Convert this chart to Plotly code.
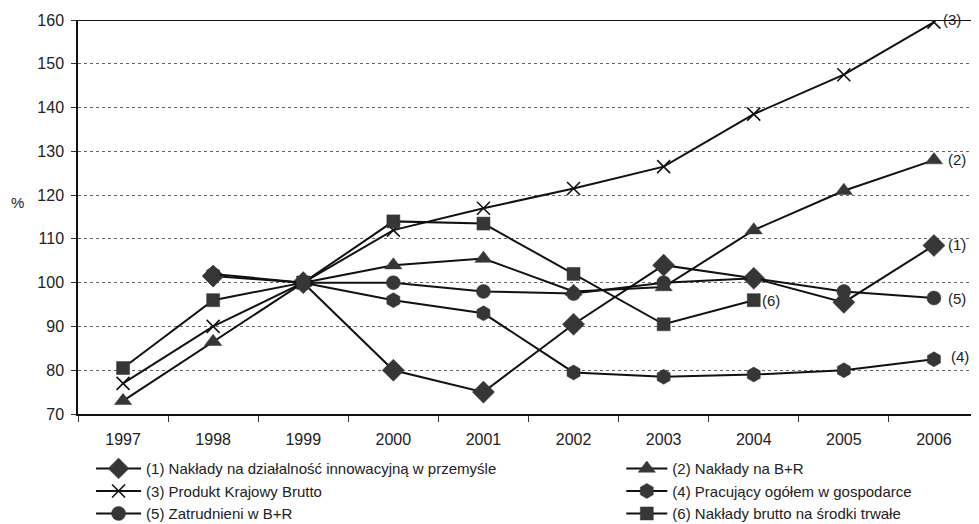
import plotly.graph_objects as go

years = ["1997", "1998", "1999", "2000", "2001", "2002", "2003", "2004", "2005", "2006"]

names = [
    "(1) Nakłady na działalność innowacyjną w przemyśle",
    "(2) Nakłady na B+R",
    "(3) Produkt Krajowy Brutto",
    "(4) Pracujący ogółem w gospodarce",
    "(5) Zatrudnieni w B+R",
    "(6) Nakłady brutto na środki trwałe",
]

s1_innowacje = [None, 101.5, 100, 80, 75, 90.5, 104, 101, 95.5, 108.5]
s2_br = [73, 86.5, 100, 104, 105.5, 98, 99, 112, 121, 128]
s3_pkb = [77, 90, 100, 112, 117, 121.5, 126.5, 138.5, 147.5, 159.5]
s4_pracujacy = [None, 102, 100, 96, 93, 79.5, 78.5, 79, 80, 82.5]
s5_zatrudnieni_br = [None, None, 100, 100, 98, 97.5, 100, 101, 98, 96.5]
s6_srodki_trwale = [80.5, 96, 100, 114, 113.5, 102, 90.5, 96, None, None]

end_labels = ["(1)", "(2)", "(3)", "(4)", "(5)", "(6)"]

series = [s1_innowacje, s2_br, s3_pkb, s4_pracujacy, s5_zatrudnieni_br, s6_srodki_trwale]

# styles
symbols = ["diamond", "triangle-up", "x-thin", "hexagon", "circle", "square"]
sizes = [17, 15, 13, 15, 14, 13]
legend_ids = ["legend", "legend2", "legend", "legend2", "legend", "legend2"]
label_shift = [(12, 1), (12, 1), (7, 3), (15, 3), (12, -1), (6, 0)]

FILL = "#363636"
LINE = "#111111"
TXT = "#222222"
FONT = "Liberation Sans, Arial, sans-serif"

fig = go.Figure()
for name, vals, sym, sz, lg in zip(names, series, symbols, sizes, legend_ids):
    if sym == "x-thin":
        marker = dict(symbol=sym, size=sz, color=LINE, line=dict(color=LINE, width=1.6))
    else:
        marker = dict(symbol=sym, size=sz, color=FILL, line=dict(color=FILL, width=0.5))
    fig.add_trace(go.Scatter(
        x=years, y=vals, name=name, mode="lines+markers", legend=lg,
        line=dict(color=LINE, width=2), marker=marker, connectgaps=False,
    ))

# end-of-series labels
for lab, vals, (dx, dy) in zip(end_labels, series, label_shift):
    idx = max(i for i, v in enumerate(vals) if v is not None)
    fig.add_annotation(x=idx, y=vals[idx], text=lab, showarrow=False,
                       xanchor="left", xshift=dx, yshift=dy,
                       font=dict(family=FONT, size=15, color=TXT))

fig.add_annotation(xref="paper", yref="y", x=-0.077, y=118.3, text="%",
                   showarrow=False, xanchor="left",
                   font=dict(family=FONT, size=15, color=TXT))

fig.add_shape(type="line", xref="paper", yref="y", x0=0, x1=1, y0=160, y1=160,
              line=dict(color="#111111", width=2))

leg_common = dict(orientation="v", yanchor="top", xanchor="left",
                  tracegroupgap=0, bgcolor="rgba(0,0,0,0)",
                  font=dict(family=FONT, size=15, color=TXT))

# page body has an 8px default margin: figure is sized/offset to compensate
fig.update_layout(
    width=971, height=516,
    margin=dict(l=70, r=0, t=12, b=110, autoexpand=False),
    paper_bgcolor="white", plot_bgcolor="white",
    font=dict(family=FONT, size=15, color=TXT),
    showlegend=True,
    legend=dict(x=0.0145, y=-0.097, itemwidth=45, **leg_common),
    legend2=dict(x=0.603, y=-0.097, itemwidth=41, **leg_common),
    xaxis=dict(type="category", range=[-0.5, 9.5], tickson="boundaries",
               ticks="outside", ticklen=6, tickcolor="#333", showgrid=False,
               showline=True, linecolor="#111", linewidth=1.5, automargin=False,
               ticklabelstandoff=10,
               tickfont=dict(family=FONT, size=16, color=TXT)),
    yaxis=dict(range=[70, 160], dtick=10, ticks="outside", ticklen=5, tickcolor="#333",
               showline=True, linecolor="#111", linewidth=1.5, automargin=False,
               ticklabelstandoff=4,
               showgrid=True, gridcolor="#666", griddash="dot", gridwidth=1,
               zeroline=False, tickfont=dict(family=FONT, size=16, color=TXT)),
)

fig.write_html("out.html")
